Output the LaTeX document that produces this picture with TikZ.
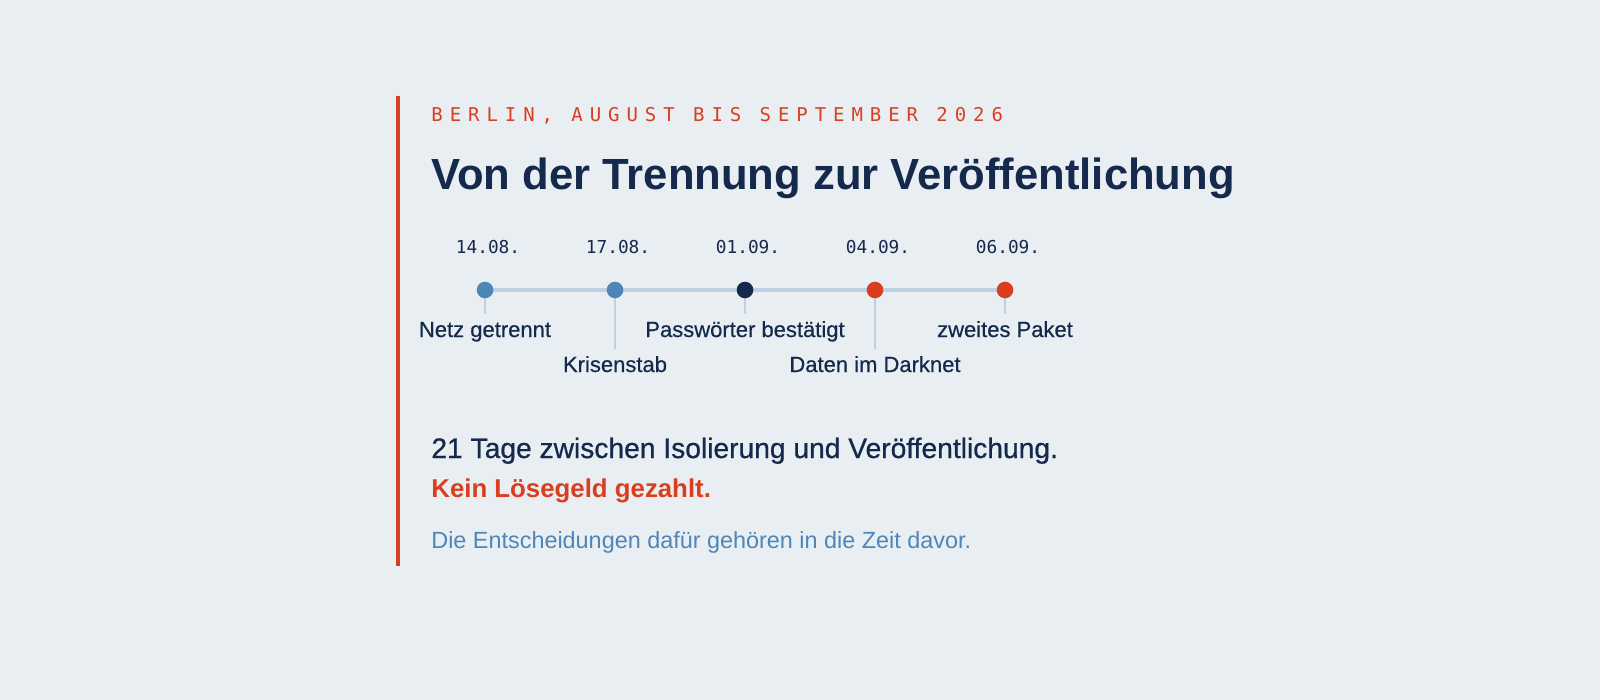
\documentclass[tikz,border=0pt]{standalone}
\usepackage{fontspec}
\setmainfont{Liberation Sans}
\newfontfamily\monofont{DejaVu Sans Mono}
\usepackage{tikz}
\usetikzlibrary{positioning}
\definecolor{bgcol}{HTML}{E9EEF3}
\definecolor{navy}{HTML}{14294B}
\definecolor{alert}{HTML}{D93E1E}
\definecolor{steel}{HTML}{4F86B8}
\definecolor{rail}{HTML}{BFD0E2}

\begin{document}
\begin{tikzpicture}[
    x=0.5pt, y=-0.5pt,
    textline/.style={anchor=base west, inner sep=0pt},
    eyebrow/.style={textline, text=alert, font=\monofont\fontsize{9.5}{11}\selectfont\addfontfeature{LetterSpace=36.5}},
    headline/.style={textline, text=navy, font=\bfseries\fontsize{21.8}{26}\selectfont},
    datelbl/.style={anchor=base, inner sep=0pt, text=navy, xshift=1.5pt, font=\monofont\fontsize{8.9}{10}\selectfont},
    dot/.style={circle, inner sep=0pt, minimum size=8.3pt},
    eventlbl/.style={anchor=base, inner sep=0pt, text height=11.5pt, text=navy, font=\fontsize{11}{13}\selectfont\addfontfeature{FakeBold=0.5}},
    tick/.style={draw=rail, line width=1pt},
    railline/.style={draw=rail, line width=1.8pt}
]
% canvas
\fill[bgcol] (0,0) rectangle (1600,700);
\useasboundingbox (0,0) rectangle (1600,700);

% accent bar
\coordinate (bartop) at (398,96);
\coordinate (barbot) at (398,566);
\draw[alert, line width=2.3pt] (bartop) -- (barbot);

% heading
\node[eyebrow] (kicker) at (431,122) {BERLIN, AUGUST BIS SEPTEMBER 2026};
\node[headline] (title) at (431,190) {Von der Trennung zur Veröffentlichung};

% timeline
\coordinate (p1) at (485,290);
\coordinate (p2) at (615,290);
\coordinate (p3) at (745,290);
\coordinate (p4) at (875,290);
\coordinate (p5) at (1005,290);
\draw[railline] (p1) -- (p5);

\node[datelbl] (t1) at (485,254) {14.08.};
\node[datelbl] (t2) at (615,254) {17.08.};
\node[datelbl] (t3) at (745,254) {01.09.};
\node[datelbl] (t4) at (875,254) {04.09.};
\node[datelbl] (t5) at (1005,254) {06.09.};

\node[eventlbl] (e1) at (485,337) {Netz getrennt};
\node[eventlbl] (e2) at (615,372) {Krisenstab};
\node[eventlbl] (e3) at (745,337) {Passwörter bestätigt};
\node[eventlbl] (e4) at (875,372) {Daten im Darknet};
\node[eventlbl] (e5) at (1005,337) {zweites Paket};

\draw[tick] (p1) -- (e1.north);
\draw[tick] (p2) -- (e2.north);
\draw[tick] (p3) -- (e3.north);
\draw[tick] (p4) -- (e4.north);
\draw[tick] (p5) -- (e5.north);

\node[dot, fill=steel] (d1) at (p1) {};
\node[dot, fill=steel] (d2) at (p2) {};
\node[dot, fill=navy] (d3) at (p3) {};
\node[dot, fill=alert] (d4) at (p4) {};
\node[dot, fill=alert] (d5) at (p5) {};

% summary
\node[textline, text=navy, font=\fontsize{14.1}{17}\selectfont\addfontfeature{FakeBold=0.7}] (sum1) at (431,458) {21 Tage zwischen Isolierung und Veröffentlichung.};
\node[textline, text=alert, font=\bfseries\fontsize{12.9}{15}\selectfont] (sum2) at (431,497) {Kein Lösegeld gezahlt.};
\node[textline, text=steel, font=\fontsize{11.7}{14}\selectfont] (note) at (431,548) {Die Entscheidungen dafür gehören in die Zeit davor.};
\end{tikzpicture}
\end{document}
